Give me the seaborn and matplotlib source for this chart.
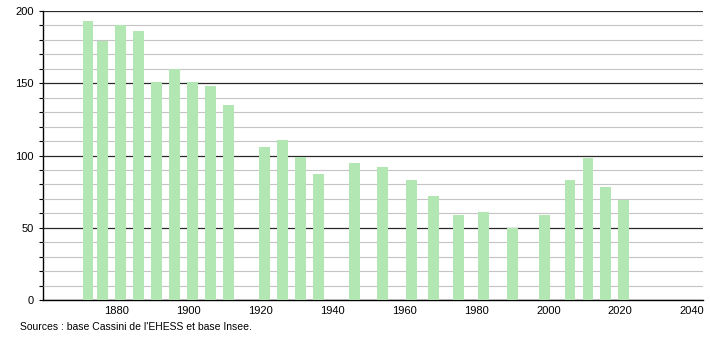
import numpy as np
import pandas as pd
import matplotlib
matplotlib.use('Agg')
import matplotlib.pyplot as plt
from matplotlib.ticker import MultipleLocator
import seaborn as sns

# Données (population par recensement)
years = [1872, 1876, 1881, 1886, 1891, 1896, 1901, 1906, 1911,
         1921, 1926, 1931, 1936, 1946, 1954, 1962, 1968, 1975,
         1982, 1990, 1999, 2006, 2011, 2016, 2021]
population = [193, 179, 190, 186, 151, 160, 151, 148, 135,
              106, 111, 99, 87, 95, 92, 83, 72, 59,
              61, 50, 59, 83, 98, 78, 69]
x_ticks = [1880, 1900, 1920, 1940, 1960, 1980, 2000, 2020, 2040]
source = "Sources : base Cassini de l'EHESS et base Insee."

df = pd.DataFrame({'annee': years, 'pop': population})

sns.set_style('white')
plt.rcParams['font.family'] = ['Liberation Sans', 'DejaVu Sans']

fig = plt.figure(figsize=(7.1, 3.4), dpi=100)
ax = fig.add_axes([43 / 710, 40 / 340, 660 / 710, 289 / 340])

sns.barplot(data=df, x='annee', y='pop', native_scale=True, width=0.75,
            color='#b2e6b2', saturation=1, edgecolor='none', ax=ax, zorder=3)

ax.set_xlim(1859.5, 2043)
ax.set_ylim(0, 200)

# grille : fines tous les 10, foncées tous les 50
ax.yaxis.set_major_locator(MultipleLocator(50))
ax.yaxis.set_minor_locator(MultipleLocator(10))
ax.grid(which='minor', axis='y', color='#c4c4c4', lw=0.8, zorder=0)
ax.grid(which='major', axis='y', color='#2a2a2a', lw=0.9, zorder=1)
ax.set_axisbelow(False)

ax.set_xticks(x_ticks)
ax.set_xticklabels([str(t) for t in x_ticks])
ax.tick_params(axis='x', length=0, labelsize=8, pad=4, labelcolor='black')
ax.tick_params(axis='y', which='both', direction='out', length=3,
               width=0.8, labelsize=8, left=True, color='black',
               labelcolor='black')

for s in ['top', 'right']:
    ax.spines[s].set_visible(False)
for s in ['left', 'bottom']:
    ax.spines[s].set_color('black')
    ax.spines[s].set_linewidth(1.0)

ax.set_xlabel('')
ax.set_ylabel('')

fig.text(20 / 710, 1 - 327 / 340, source, fontsize=7.5, va='center',
         ha='left', color='black')

fig.savefig('out.png', dpi=100)
